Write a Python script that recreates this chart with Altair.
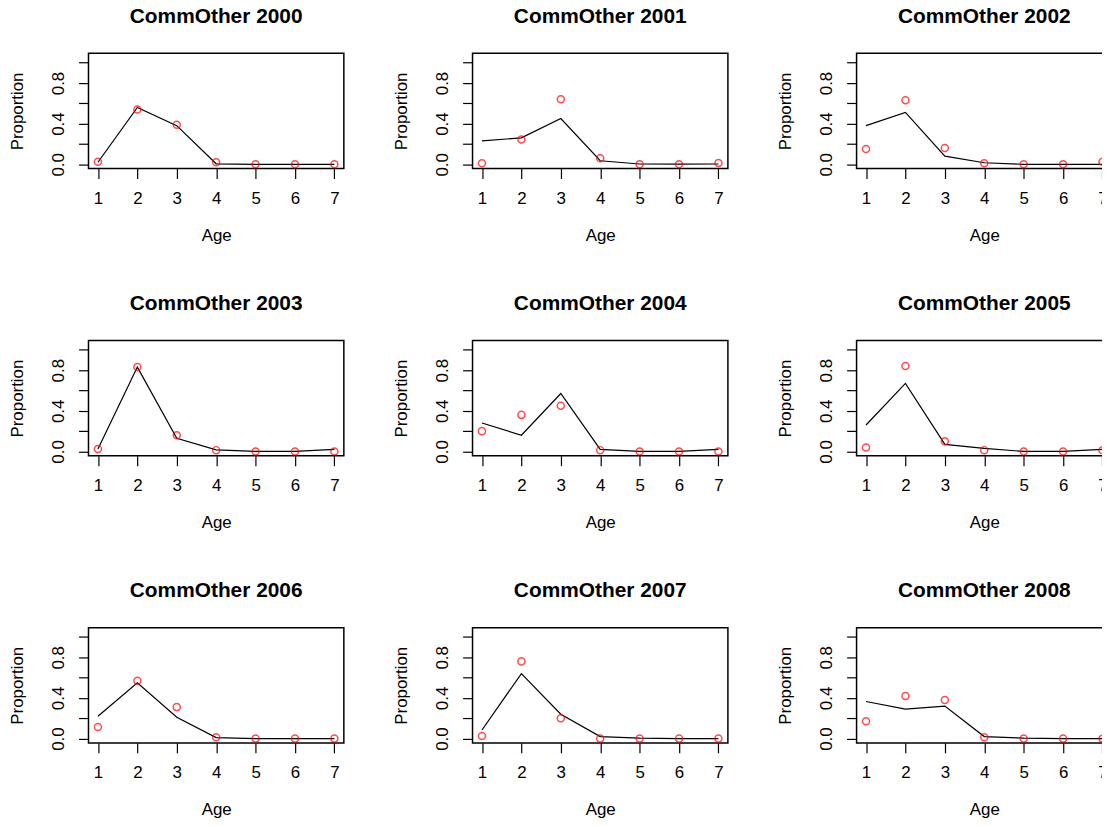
import altair as alt
import pandas as pd

ages = [1, 2, 3, 4, 5, 6, 7]
years = [2000, 2001, 2002, 2003, 2004, 2005, 2006, 2007, 2008]

observed = [
    [0.025, 0.54, 0.39, 0.02, 0.0, 0.0, 0.0],
    [0.01, 0.245, 0.64, 0.06, 0.0, 0.0, 0.013],
    [0.15, 0.63, 0.16, 0.01, 0.0, 0.0, 0.025],
    [0.025, 0.83, 0.16, 0.013, 0.0, 0.0, 0.0],
    [0.20, 0.36, 0.45, 0.013, 0.0, 0.0, 0.0],
    [0.04, 0.84, 0.10, 0.013, 0.0, 0.0, 0.013],
    [0.115, 0.57, 0.31, 0.013, 0.0, 0.0, 0.0],
    [0.026, 0.76, 0.20, 0.0, 0.0, 0.0, 0.0],
    [0.17, 0.42, 0.38, 0.013, 0.0, 0.0, 0.0],
]

predicted = [
    [0.02, 0.56, 0.38, 0.005, 0.0, 0.0, 0.0],
    [0.23, 0.26, 0.45, 0.035, 0.003, 0.002, 0.003],
    [0.38, 0.51, 0.08, 0.015, 0.0, 0.0, 0.0],
    [0.025, 0.83, 0.13, 0.015, 0.0, 0.0, 0.02],
    [0.28, 0.16, 0.57, 0.02, 0.0, 0.0, 0.02],
    [0.26, 0.67, 0.07, 0.03, 0.0, 0.0, 0.02],
    [0.22, 0.55, 0.21, 0.01, 0.0, 0.0, 0.0],
    [0.085, 0.64, 0.24, 0.02, 0.005, 0.0, 0.0],
    [0.365, 0.29, 0.32, 0.02, 0.005, 0.0, 0.0],
]

y_ticks = [0.0, 0.2, 0.4, 0.6, 0.8, 1.0]
FONT = "Liberation Sans"

x_enc = alt.X(
    "age:Q",
    scale=alt.Scale(domain=[0.76, 7.24], nice=False, zero=False),
    axis=alt.Axis(
        values=ages, format="d", title="Age", labelFlush=False,
        labelPadding=12, titlePadding=21, labelBaseline="top",
    ),
)


def y_enc(field):
    return alt.Y(
        f"{field}:Q",
        scale=alt.Scale(domain=[-0.042, 1.092], nice=False, zero=False),
        axis=alt.Axis(
            values=y_ticks, title="Proportion", labelAngle=270,
            labelAlign="center", labelBaseline="middle", labelPadding=20,
            titlePadding=23, labelOverlap=False, labelFlush=False,
            labelExpr=(
                "abs(datum.value) < 1e-6 || abs(datum.value - 0.4) < 1e-6 || "
                "abs(datum.value - 0.8) < 1e-6 ? format(datum.value, '.1f') : ''"
            ),
        ),
    )


panels = []
for i, yr in enumerate(years):
    df = pd.DataFrame({"age": ages, "obs": observed[i], "pred": predicted[i]})
    base = alt.Chart(df)
    line = base.mark_line(color="black", strokeWidth=1.2).encode(x=x_enc, y=y_enc("pred"))
    pts = base.mark_point(shape="circle", filled=False, color="red", size=50, strokeWidth=1.5).encode(
        x=x_enc, y=y_enc("obs")
    )
    panel = alt.layer(line, pts).properties(
        width=257,
        height=116,
        title=alt.TitleParams(
            text=f"CommOther {yr}", fontSize=21, fontWeight="bold", font=FONT,
            anchor="middle", baseline="bottom", offset=6, color="black",
        ),
    )
    panels.append(panel)

chart = (
    alt.concat(*panels, columns=3, spacing={"row": 48, "column": 47.5})
    .properties(padding={"top": -6, "left": 0, "right": -11, "bottom": -2}, background="white")
    .configure_axis(
        labelFont=FONT, titleFont=FONT, labelFontSize=17, titleFontSize=17,
        labelColor="black", titleColor="black", titleFontWeight="normal",
        tickColor="black", tickSize=10, tickWidth=1.2, domain=False, grid=False,
    )
    .configure_view(stroke="black", strokeWidth=1.5)
)

chart.save("out.html", embed_options={"renderer": "svg", "actions": False})
